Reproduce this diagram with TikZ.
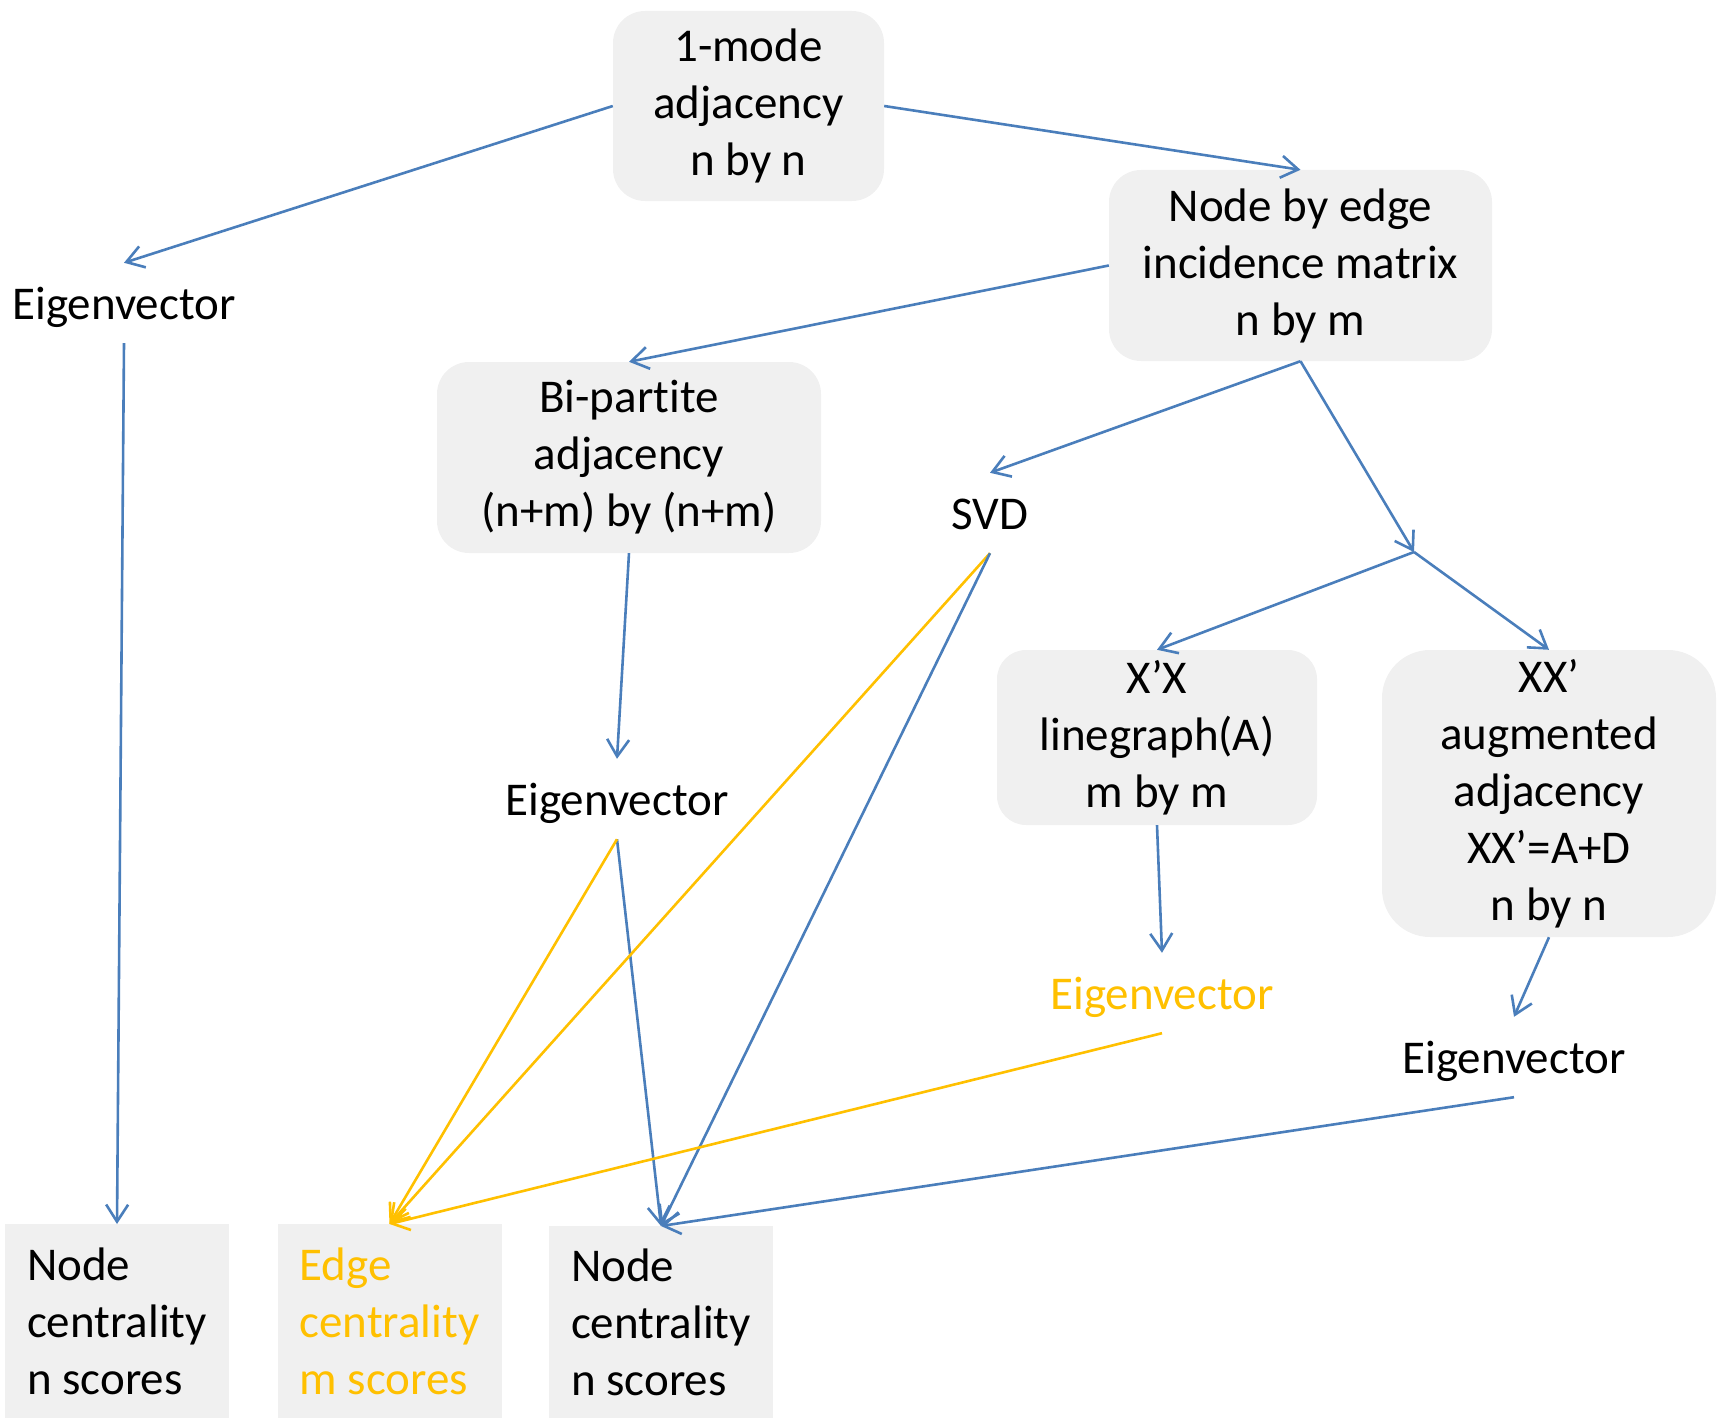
\documentclass[tikz,border=0pt]{standalone}
\usepackage{fontspec}
\setmainfont{Carlito}[Ligatures=NoCommon]
\usetikzlibrary{arrows.meta}
\definecolor{edgeblue}{HTML}{4A7EBB}
\definecolor{edgeorange}{HTML}{FFC000}
\definecolor{boxgray}{HTML}{F0F0F0}

\begin{document}
\begin{tikzpicture}[x=1pt,y=-1pt,
  font=\fontsize{47}{57}\selectfont,
  box/.style={fill=boxgray, rounded corners=32pt, align=center, inner sep=0pt,
    execute at begin node=\rule{0pt}{48pt}},
  scorebox/.style={fill=boxgray, align=left, minimum width=224pt, inner xsep=16pt,
    inner ysep=0pt, minimum height=194pt, anchor=north},
  lbl/.style={anchor=base, text height=52pt, text depth=20pt, inner xsep=0pt, inner ysep=4pt},
  flow/.style={draw=edgeblue, line width=2.6pt, -{Straight Barb[length=17pt,width=22pt]}},
  eflow/.style={flow, draw=edgeorange},
]
\useasboundingbox (0,0) rectangle (1725,1418);

% matrices
\node[box, minimum width=271pt, minimum height=190pt] (onemode) at (748.5,106)
  {1-mode\\adjacency\\n by n};
\node[box, minimum width=383pt, minimum height=191pt] (incid) at (1300.5,265.5)
  {Node by edge\\incidence matrix\\n by m};
\node[box, minimum width=384pt, minimum height=191pt] (bipart) at (629,457.5)
  {Bi-partite\\adjacency\\(n+m) by (n+m)};
\node[box, rounded corners=29pt, minimum width=320pt, minimum height=175pt] (xtx) at (1157,737.5)
  {X’X\\linegraph(A)\\m by m};
\node[box, rounded corners=48pt, minimum width=334pt, minimum height=287pt] (xxt) at (1549,793.5)
  {XX’\\augmented\\adjacency\\XX’=A+D\\n by n};

% operations
\node[lbl] (ev1) at (124,319) {Eigenvector};
\node[lbl] (svd) at (990,529) {SVD};
\node[lbl] (ev2) at (617,815) {Eigenvector};
\node[lbl, text=edgeorange] (ev3) at (1162,1009) {Eigenvector};
\node[lbl] (ev4) at (1514,1073) {Eigenvector};
\coordinate (split) at (1414,552);

% results
\node[scorebox] (ncA) at (117,1224) {Node\\centrality\\n scores};
\node[scorebox, text=edgeorange] (ec) at (389.5,1224) {Edge\\centrality\\m scores};
\node[scorebox, minimum height=192pt] (ncB) at (661,1226) {Node\\centrality\\n scores};

% connectors
\draw[flow] (onemode.west) -- (ev1.north);
\draw[flow] (onemode.east) -- (incid.north);
\draw[flow] (incid.west) -- (bipart.north);
\draw[flow] (incid.south) -- (svd.north);
\draw[flow] (incid.south) -- (split);
\draw[flow] (split) -- (xtx.north);
\draw[flow] (split) -- (xxt.north);
\draw[flow] (ev1.south) -- (ncA.north);
\draw[flow] (bipart.south) -- (ev2.north);
\draw[flow] (ev2.south) -- (ncB.north);
\draw[eflow] (ev2.south) -- (ec.north);
\draw[eflow] (svd.south) -- (ec.north);
\draw[flow] (svd.south) -- (ncB.north);
\draw[flow] (xtx.south) -- (ev3.north);
\draw[eflow] (ev3.south) -- (ec.north);
\draw[flow] (xxt.south) -- (ev4.north);
\draw[flow] (ev4.south) -- (ncB.north);
\end{tikzpicture}
\end{document}
